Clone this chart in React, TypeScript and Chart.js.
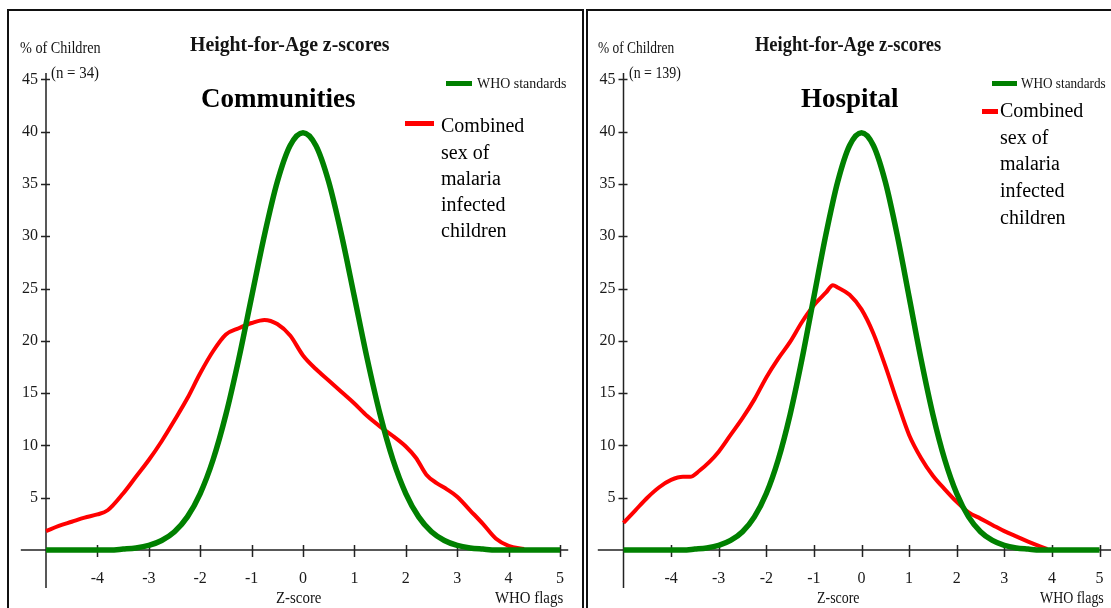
import React, { useEffect, useRef } from "react";
import { Chart, registerables } from "chart.js";

Chart.register(...registerables);

// ---------- data ----------
const whoZ = [-5, -4.75, -4.5, -4.25, -4, -3.75, -3.5, -3.25, -3, -2.75, -2.5, -2.25, -2, -1.75, -1.5, -1.25, -1, -0.75, -0.5, -0.25, 0,
  0.25, 0.5, 0.75, 1, 1.25, 1.5, 1.75, 2, 2.25, 2.5, 2.75, 3, 3.25, 3.5, 3.75, 4, 4.25, 4.5, 4.75, 5];
const whoPct = [0, 0, 0, 0, 0, 0, 0.09, 0.2, 0.44, 0.91, 1.75, 3.17, 5.4, 8.63, 12.95, 18.26, 24.2, 30.11, 35.2, 38.67, 39.89,
  38.67, 35.2, 30.11, 24.2, 18.26, 12.95, 8.63, 5.4, 3.17, 1.75, 0.91, 0.44, 0.2, 0.09, 0, 0, 0, 0, 0, 0];

const commZ = [-5, -4.75, -4.5, -4.25, -4, -3.8, -3.5, -3.25, -3, -2.75, -2.5, -2.25, -2, -1.75, -1.5, -1.25, -1, -0.75, -0.5, -0.25, 0,
  0.25, 0.5, 0.75, 1, 1.25, 1.5, 1.75, 2, 2.2, 2.4, 2.6, 2.8, 3, 3.25, 3.5, 3.75, 4, 4.3];
const commPct = [1.8, 2.3, 2.7, 3.1, 3.4, 3.8, 5.4, 7.0, 8.6, 10.4, 12.4, 14.5, 16.9, 19.0, 20.6, 21.2, 21.7, 22.0, 21.6, 20.5, 18.6,
  17.3, 16.2, 15.1, 14.0, 12.8, 11.8, 10.9, 9.9, 8.8, 7.2, 6.4, 5.8, 5.1, 3.8, 2.5, 1.1, 0.4, 0.1];

const hospZ = [-5, -4.75, -4.5, -4.25, -4, -3.75, -3.6, -3.4, -3.2, -3, -2.75, -2.5, -2.25, -2, -1.75, -1.5, -1.25, -1, -0.75, -0.6, -0.5, -0.25, 0,
  0.25, 0.5, 0.75, 1, 1.25, 1.5, 1.75, 2, 2.25, 2.5, 2.75, 3, 3.25, 3.5, 3.75, 3.9];
const hospPct = [2.6, 3.8, 5.0, 6.0, 6.7, 7.0, 7.0, 7.6, 8.4, 9.4, 11.0, 12.6, 14.4, 16.5, 18.3, 19.9, 21.8, 23.4, 24.6, 25.3, 25.1, 24.4, 23.0,
  20.7, 17.6, 14.2, 11.0, 8.8, 7.1, 5.8, 4.6, 3.6, 3.0, 2.4, 1.8, 1.3, 0.8, 0.35, 0.1];

const xTickValues = [-4, -3, -2, -1, 0, 1, 2, 3, 4, 5];
const yTickValues = [5, 10, 15, 20, 25, 30, 35, 40, 45];

const WHO_LABEL = "WHO standards";
const RED_LABEL = "Combined sex of malaria infected children";

// ---------- plugin: axis lines crossing at (-5, 0) with crossing ticks ----------
const crossAxes = {
  id: "crossAxes",
  beforeDatasetsDraw(chart: any, _args: any, opts: any) {
    const xs = chart.scales.x;
    const ys = chart.scales.y;
    const ctx = chart.ctx;
    const x0 = xs.getPixelForValue(-5);
    const y0 = ys.getPixelForValue(0);
    ctx.save();
    ctx.strokeStyle = "#222";
    ctx.lineWidth = 1.5;
    ctx.beginPath();
    ctx.moveTo(xs.getPixelForValue(opts.xMin), y0);
    ctx.lineTo(xs.getPixelForValue(opts.xMax), y0);
    ctx.moveTo(x0, ys.getPixelForValue(opts.yMax));
    ctx.lineTo(x0, ys.getPixelForValue(opts.yMin));
    for (const t of xs.ticks) {
      const px = Math.round(xs.getPixelForValue(t.value)) + 0.5;
      ctx.moveTo(px, y0 - 5);
      ctx.lineTo(px, y0 + 7);
    }
    for (const t of ys.ticks) {
      const py = Math.round(ys.getPixelForValue(t.value)) + 0.5;
      ctx.moveTo(x0 - 5, py);
      ctx.lineTo(x0 + 4, py);
    }
    ctx.stroke();
    ctx.restore();
  },
};

function toPoints(xs: number[], ys: number[]) {
  return xs.map((x, i) => ({ x, y: ys[i] }));
}

type PanelChartProps = {
  left: number;
  width: number;
  yAxisWidth: number;
  padRight: number;
  redZ: number[];
  redPct: number[];
  xMin: number;
  xMax: number;
  tickSize: number;
};

function PanelChart(p: PanelChartProps) {
  const ref = useRef<HTMLCanvasElement | null>(null);
  useEffect(() => {
    if (!ref.current) return;
    const tickFont = { family: "'Liberation Serif', serif", size: p.tickSize };
    const chart = new Chart(ref.current, {
      type: "line",
      data: {
        datasets: [
          {
            label: WHO_LABEL,
            data: toPoints(whoZ, whoPct),
            borderColor: "#008000",
            backgroundColor: "#008000",
            borderWidth: 5.5,
            pointRadius: 0,
            cubicInterpolationMode: "monotone",
            clip: false,
            order: 0,
          } as any,
          {
            label: RED_LABEL,
            data: toPoints(p.redZ, p.redPct),
            borderColor: "#ff0000",
            backgroundColor: "#ff0000",
            borderWidth: 4,
            pointRadius: 0,
            cubicInterpolationMode: "monotone",
            clip: false,
            order: 1,
          } as any,
        ],
      },
      options: {
        responsive: false,
        animation: false,
        events: [],
        layout: { padding: { left: 0, right: p.padRight, top: 79.3, bottom: 0 } },
        plugins: {
          legend: { display: false },
          tooltip: { enabled: false },
          crossAxes: { xMin: p.xMin, xMax: p.xMax, yMin: -3.63, yMax: 45.6 },
        } as any,
        scales: {
          x: {
            type: "linear",
            min: -5,
            max: 5,
            afterBuildTicks: (s: any) => {
              s.ticks = xTickValues.map((v) => ({ value: v }));
            },
            afterFit: (s: any) => {
              s.height = 58;
            },
            grid: { display: false, drawTicks: false },
            border: { display: false },
            ticks: { font: tickFont, color: "#1a1a1a", padding: 19, maxRotation: 0, autoSkip: false },
          },
          y: {
            type: "linear",
            min: 0,
            max: 45,
            afterBuildTicks: (s: any) => {
              s.ticks = yTickValues.map((v) => ({ value: v }));
            },
            afterFit: (s: any) => {
              s.width = p.yAxisWidth;
            },
            grid: { display: false, drawTicks: false },
            border: { display: false },
            ticks: { font: tickFont, color: "#1a1a1a", padding: 8, autoSkip: false },
          },
        },
      },
      plugins: [crossAxes as any],
    });
    return () => chart.destroy();
  }, []);
  return (
    <canvas
      ref={ref}
      width={p.width}
      height={608}
      style={{ position: "absolute", left: p.left, top: 0, width: p.width, height: 608 }}
    />
  );
}

type TxtProps = {
  x: number;
  y: number;
  size: number;
  bold?: boolean;
  sx?: number;
  color?: string;
  children: React.ReactNode;
};

function Txt({ x, y, size, bold, sx = 1, color = "#141414", children }: TxtProps) {
  return (
    <div
      style={{
        position: "absolute",
        left: x,
        top: y,
        transform: `translateY(-50%) scaleX(${sx})`,
        transformOrigin: "left center",
        fontFamily: "'Liberation Serif', 'Times New Roman', serif",
        fontSize: size,
        fontWeight: bold ? 700 : 400,
        lineHeight: 1,
        whiteSpace: "nowrap",
        color,
      }}
    >
      {children}
    </div>
  );
}

function Swatch({ x, y, w, color }: { x: number; y: number; w: number; color: string }) {
  return <div style={{ position: "absolute", left: x, top: y - 2.5, width: w, height: 5, background: color }} />;
}

const redLines = ["Combined", "sex of", "malaria", "infected", "children"];
const leftRedY = [125, 151.5, 178, 204, 230];
const rightRedY = [110, 137, 163, 190, 217];

export default function App() {
  return (
    <div
      style={{
        position: "absolute",
        left: 0,
        top: 0,
        width: 1111,
        height: 608,
        overflow: "hidden",
        background: "#fff",
      }}
    >
      {/* panel borders */}
      <div style={{ position: "absolute", left: 7, top: 9, width: 577, height: 640, border: "2px solid #111", boxSizing: "border-box" }} />
      <div style={{ position: "absolute", left: 586, top: 9, width: 600, height: 640, border: "2px solid #111", boxSizing: "border-box" }} />

      <PanelChart left={0} width={586} yAxisWidth={46} padRight={26} redZ={commZ} redPct={commPct} xMin={-5.49} xMax={5.16} tickSize={16} />
      <PanelChart left={586} width={540} yAxisWidth={37.5} padRight={26.5} redZ={hospZ} redPct={hospPct} xMin={-5.54} xMax={5.3} tickSize={16} />

      {/* left panel texts */}
      <Txt x={20} y={48} size={16} sx={0.89}>% of Children</Txt>
      <Txt x={51} y={73} size={16} sx={0.93}>(n = 34)</Txt>
      <Txt x={190} y={44} size={22} bold sx={0.9}>Height-for-Age z-scores</Txt>
      <Txt x={201} y={98} size={27} bold color="#000">Communities</Txt>
      <Swatch x={446} y={83} w={26} color="#008000" />
      <Txt x={477} y={83} size={15} sx={0.93}>{WHO_LABEL}</Txt>
      <Swatch x={405} y={123} w={29} color="#ff0000" />
      {redLines.map((t, i) => (
        <Txt key={"l" + i} x={441} y={leftRedY[i]} size={20} color="#000">{t}</Txt>
      ))}
      <Txt x={276} y={598} size={16} sx={0.93}>Z-score</Txt>
      <Txt x={495} y={598} size={16} sx={0.93}>WHO flags</Txt>

      {/* right panel texts */}
      <Txt x={598} y={48} size={16} sx={0.84}>% of Children</Txt>
      <Txt x={629} y={73} size={16} sx={0.87}>(n = 139)</Txt>
      <Txt x={755} y={44} size={22} bold sx={0.84}>Height-for-Age z-scores</Txt>
      <Txt x={801} y={98} size={27} bold color="#000">Hospital</Txt>
      <Swatch x={992} y={83} w={25} color="#008000" />
      <Txt x={1021} y={83} size={15} sx={0.88}>{WHO_LABEL}</Txt>
      <Swatch x={982} y={111} w={16} color="#ff0000" />
      {redLines.map((t, i) => (
        <Txt key={"r" + i} x={1000} y={rightRedY[i]} size={20} color="#000">{t}</Txt>
      ))}
      <Txt x={817} y={598} size={16} sx={0.87}>Z-score</Txt>
      <Txt x={1040} y={598} size={16} sx={0.87}>WHO flags</Txt>
    </div>
  );
}
